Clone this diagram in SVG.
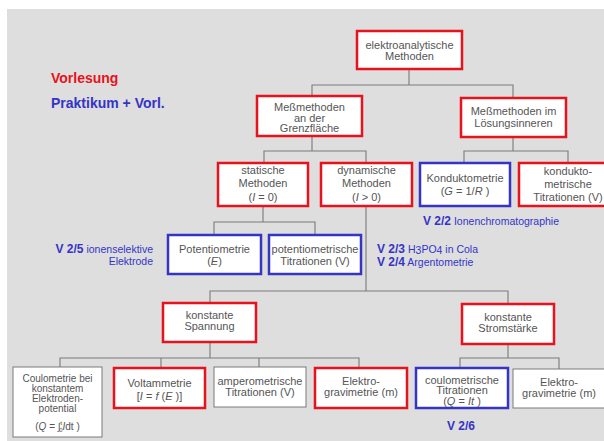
<svg xmlns="http://www.w3.org/2000/svg" width="604" height="441" viewBox="0 0 604 441">
  <style>
    text { font-family: "Liberation Sans", Arial, sans-serif; }
    .box { fill: #ffffff; }
    .red { stroke: #e8121c; stroke-width: 2.5; }
    .blue { stroke: #3434c6; stroke-width: 2.5; }
    .gray { stroke: #7a7a7a; stroke-width: 1; }
    .lbl { font-size: 11px; fill: #555555; text-anchor: middle; }
    .sm { font-size: 10px; }
    .conn { fill: none; stroke: #7a7a7a; stroke-width: 1.1; }
    .vb { font-size: 12px; font-weight: bold; fill: #3434c6; }
    .vs { font-size: 10.5px; font-weight: normal; fill: #3434c6; }
    .it { font-style: italic; }
  </style>

  <!-- page -->
  <rect x="0" y="0" width="604" height="441" fill="#ffffff"/>
  <rect x="7" y="9" width="597" height="432" fill="#dedede"/>

  <!-- legend -->
  <text x="51" y="83" font-size="14" font-weight="bold" fill="#e8121c">Vorlesung</text>
  <text x="51" y="108" font-size="14" font-weight="bold" fill="#3434c6">Praktikum + Vorl.</text>

  <!-- connectors -->
  <g id="connectors" class="conn">
    <path d="M409 69V85M312 96V85H513V98"/>
    <path d="M312 136V151M264 163V151H366V163"/>
    <path d="M513 137V151M464 163V151H568V163"/>
    <path d="M263 206V222M214 235V222H315V235"/>
    <path d="M366 206V291M210 303V291H508V304"/>
    <path d="M210 342V358M60 367V358H359V368M161 358V368M259 358V367"/>
    <path d="M508 344V358M460 368V358H559V369"/>
  </g>

  <g id="elektroanalytische">
    <rect class="box red" x="357" y="31" width="105" height="38"/>
    <text class="lbl"><tspan x="409.5" y="48.5">elektroanalytische</tspan><tspan x="409.5" y="59.5">Methoden</tspan></text>
  </g>

  <g id="grenzflaeche">
    <rect class="box red" x="257" y="96" width="105" height="40"/>
    <text class="lbl"><tspan x="309.5" y="111">Meßmethoden</tspan><tspan x="309.5" y="121.5">an der</tspan><tspan x="309.5" y="132">Grenzfläche</tspan></text>
  </g>

  <g id="loesungsinneren">
    <rect class="box red" x="461" y="98" width="105" height="39"/>
    <text class="lbl"><tspan x="513.5" y="115">Meßmethoden im</tspan><tspan x="513.5" y="127">Lösungsinneren</tspan></text>
  </g>

  <g id="statisch">
    <rect class="box red" x="218" y="163" width="90" height="43"/>
    <text class="lbl"><tspan x="263" y="174">statische</tspan><tspan x="263" y="187">Methoden</tspan><tspan x="263" y="201">(<tspan class="it">I</tspan> = 0)</tspan></text>
  </g>

  <g id="dynamisch">
    <rect class="box red" x="321" y="163" width="91" height="43"/>
    <text class="lbl"><tspan x="366.5" y="174">dynamische</tspan><tspan x="366.5" y="187">Methoden</tspan><tspan x="366.5" y="201">(<tspan class="it">I</tspan> &gt; 0)</tspan></text>
  </g>

  <g id="konduktometrie">
    <rect class="box blue" x="420" y="163" width="90" height="43"/>
    <text class="lbl"><tspan x="465" y="182">Konduktometrie</tspan><tspan x="465" y="194.5">(<tspan class="it">G</tspan> = 1/<tspan class="it">R</tspan> )</tspan></text>
  </g>

  <g id="konduktometrische-titrationen">
    <rect class="box red" x="519" y="163" width="98" height="43"/>
    <text class="lbl"><tspan x="568" y="175">kondukto-</tspan><tspan x="568" y="188">metrische</tspan><tspan x="568" y="201">Titrationen (V)</tspan></text>
  </g>

  <text x="423" y="225"><tspan class="vb">V 2/2</tspan><tspan class="vs"> Ionenchromatographie</tspan></text>

  <g id="potentiometrie">
    <rect class="box blue" x="168" y="235" width="93" height="39"/>
    <text class="lbl"><tspan x="214.5" y="253">Potentiometrie</tspan><tspan x="214.5" y="264.5">(<tspan class="it">E</tspan>)</tspan></text>
  </g>

  <g id="potentiometrische-titrationen">
    <rect class="box blue" x="269" y="235" width="92" height="39"/>
    <text class="lbl"><tspan x="315" y="253">potentiometrische</tspan><tspan x="315" y="264.5">Titrationen (V)</tspan></text>
  </g>

  <text x="153" y="252.5" text-anchor="end"><tspan class="vb">V 2/5</tspan><tspan class="vs"> ionenselektive</tspan></text>
  <text x="153" y="265" text-anchor="end" class="vs">Elektrode</text>

  <text x="377" y="252.5"><tspan class="vb">V 2/3</tspan><tspan class="vs"> H</tspan><tspan class="vs" font-size="6.5" dy="1.5">3</tspan><tspan class="vs" dy="-1.5">PO</tspan><tspan class="vs" font-size="6.5" dy="1.5">4</tspan><tspan class="vs" dy="-1.5"> in Cola</tspan></text>
  <text x="377" y="265.5"><tspan class="vb">V 2/4</tspan><tspan class="vs"> Argentometrie</tspan></text>

  <g id="konstante-spannung">
    <rect class="box red" x="163" y="303" width="93" height="39"/>
    <text class="lbl"><tspan x="209.5" y="319">konstante</tspan><tspan x="209.5" y="330">Spannung</tspan></text>
  </g>

  <g id="konstante-stromstaerke">
    <rect class="box red" x="462" y="304" width="92" height="40"/>
    <text class="lbl"><tspan x="508" y="321">konstante</tspan><tspan x="508" y="332">Stromstärke</tspan></text>
  </g>

  <g id="coulometrie">
    <rect class="box gray" x="13" y="367" width="89" height="70"/>
    <text class="lbl sm"><tspan x="57.5" y="381.5">Coulometrie bei</tspan><tspan x="57.5" y="391.5">konstantem</tspan><tspan x="57.5" y="401.5">Elektroden-</tspan><tspan x="57.5" y="411.5">potential</tspan></text>
    <text class="lbl sm" x="57.5" y="429.5">(<tspan class="it">Q</tspan> = ∫<tspan font-size="6" dy="-5">t</tspan><tspan font-size="6" dx="-3" dy="7">0</tspan><tspan class="it" dy="-2">I</tspan>dt )</text>
  </g>

  <g id="voltammetrie">
    <rect class="box red" x="114" y="368" width="91" height="40"/>
    <text class="lbl"><tspan x="159.5" y="387">Voltammetrie</tspan><tspan x="159.5" y="400">[<tspan class="it">I</tspan> = <tspan class="it">f</tspan> (<tspan class="it">E</tspan> )]</tspan></text>
  </g>

  <g id="amperometrische-titrationen">
    <rect class="box gray" x="214" y="367" width="92" height="40"/>
    <text class="lbl"><tspan x="260" y="385">amperometrische</tspan><tspan x="260" y="396">Titrationen (V)</tspan></text>
  </g>

  <g id="elektrogravimetrie-1">
    <rect class="box red" x="315" y="368" width="92" height="40"/>
    <text class="lbl"><tspan x="361" y="385">Elektro-</tspan><tspan x="361" y="396">gravimetrie (m)</tspan></text>
  </g>

  <g id="coulometrische-titrationen">
    <rect class="box blue" x="416" y="368" width="92" height="40"/>
    <text class="lbl" font-size="10.5"><tspan x="462" y="383.5">coulometrische</tspan><tspan x="462" y="394">Titrationen</tspan><tspan x="462" y="404.5">(<tspan class="it">Q</tspan> = <tspan class="it">It</tspan> )</tspan></text>
  </g>

  <g id="elektrogravimetrie-2">
    <rect class="box gray" x="513" y="369" width="94" height="39"/>
    <text class="lbl"><tspan x="559" y="385.5">Elektro-</tspan><tspan x="559" y="396.5">gravimetrie (m)</tspan></text>
  </g>

  <text x="461" y="430" text-anchor="middle" class="vb">V 2/6</text>
</svg>
